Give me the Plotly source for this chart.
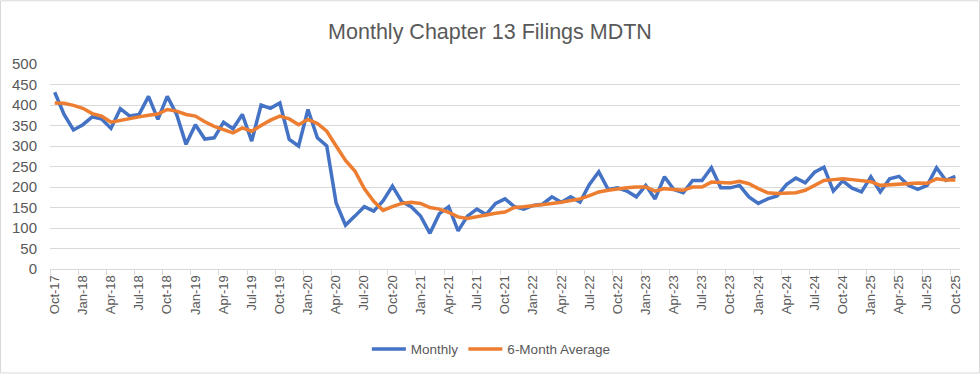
import plotly.graph_objects as go
import pandas as pd

months = pd.date_range("2017-10-01", "2025-10-01", freq="MS")
month_labels = [d.strftime("%b-%y") for d in months]

monthly = [431, 377, 339, 352, 371, 366, 343, 391, 373, 377, 421, 365,
           421, 377, 304, 352, 317, 320, 358, 342, 377, 312, 400, 392,
           405, 316, 300, 389, 320, 300, 161, 107, 129, 152, 141, 166,
           202, 164, 152, 129, 87, 135, 152, 93, 129, 146, 133, 160,
           171, 152, 146, 155, 158, 176, 163, 176, 163, 206, 237, 194,
           198, 190, 176, 204, 171, 225, 194, 186, 216, 216, 247, 198,
           198, 204, 176, 160, 171, 178, 206, 222, 210, 236, 248, 190,
           215, 197, 188, 225, 188, 220, 226, 204, 194, 204, 247, 216,
           226]

avg6 = [405, 404, 399, 392, 379, 373, 358, 363, 367, 371, 375, 378,
        389, 385, 377, 373, 359, 348, 340, 332, 344, 336, 350, 363,
        373, 366, 352, 365, 355, 336, 300, 265, 239, 196, 165, 143,
        152, 160, 163, 160, 150, 146, 138, 127, 123, 128, 132, 136,
        139, 150, 152, 154, 158, 160, 163, 166, 171, 179, 188, 192,
        196, 198, 200, 200, 190, 196, 194, 192, 200, 200, 212, 210,
        210, 214, 208, 196, 186, 184, 184, 186, 192, 204, 216, 218,
        220, 218, 216, 213, 204, 206, 208, 209, 210, 209, 220, 217,
        217]

y_ticks = [0, 50, 100, 150, 200, 250, 300, 350, 400, 450, 500]

x = list(range(len(month_labels)))
tick_idx = x[::3]

fig = go.Figure()
fig.add_trace(go.Scatter(x=x, y=monthly, mode="lines", name="Monthly",
                         line=dict(color="#4472C4", width=3.5)))
fig.add_trace(go.Scatter(x=x, y=avg6, mode="lines", name="6-Month Average",
                         line=dict(color="#ED7D31", width=3.5)))

font_fam = "Liberation Sans, Arial, sans-serif"
fig.update_layout(
    width=980, height=375,
    margin=dict(l=50, r=20, t=64, b=105),
    paper_bgcolor="white", plot_bgcolor="white",
    title=dict(text="Monthly Chapter 13 Filings MDTN", x=0.5, xanchor="center",
               y=1 - 31 / 375, yanchor="middle",
               font=dict(family=font_fam, size=21.5, color="#595959")),
    showlegend=True,
    legend=dict(orientation="h", x=0.485, xanchor="center", y=-0.385, yanchor="middle",
                font=dict(family=font_fam, size=13.5, color="#595959"),
                itemwidth=34, tracegroupgap=0),
    xaxis=dict(range=[-0.5, len(x) - 0.5], tickmode="array", tickvals=tick_idx,
               ticktext=[month_labels[i] for i in tick_idx], tickangle=-90,
               ticks="", showgrid=False, showline=True, linecolor="#D9D9D9",
               linewidth=1, zeroline=False, automargin=False,
               tickfont=dict(family=font_fam, size=13, color="#595959"),
               minor=dict(tickvals=[i - 0.5 for i in tick_idx] + [len(x) - 1.5],
                          ticks="outside", ticklen=5, tickcolor="#D9D9D9",
                          showgrid=False)),
    yaxis=dict(range=[0, 500], tickmode="array", tickvals=y_ticks,
               showgrid=True, gridcolor="#D9D9D9", gridwidth=1, zeroline=False,
               showline=False, ticks="", ticklabelstandoff=12, automargin=False,
               tickfont=dict(family=font_fam, size=15, color="#595959")),
    shapes=[dict(type="rect", xref="paper", yref="paper",
                 x0=-49.5 / 910, x1=1 + 19.5 / 910, y0=-104.5 / 206, y1=1 + 63.5 / 206,
                 line=dict(color="#D9D9D9", width=1), fillcolor="rgba(0,0,0,0)",
                 layer="below")],
)

fig.write_html("out.html", config={"displayModeBar": False},
               post_script="document.body.style.margin='0';document.body.style.overflow='hidden';")
